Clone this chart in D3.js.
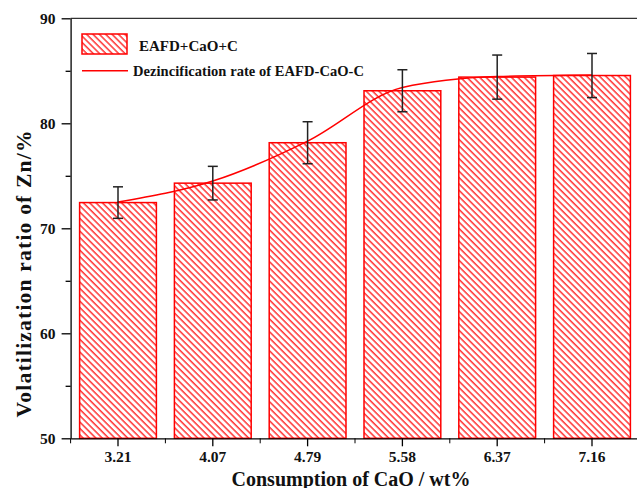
<!DOCTYPE html>
<html>
<head>
<meta charset="utf-8">
<script src="https://cdn.jsdelivr.net/npm/d3@7"></script>
<style>
  body { margin: 0; background: #fff; }
  svg { display: block; }
  svg text { font-family: "Liberation Serif", "Times New Roman", serif; font-weight: bold; fill: #111; }
</style>
</head>
<body>
<svg id="chart"></svg>
<script>
// data
const categories = ["3.21", "4.07", "4.79", "5.58", "6.37", "7.16"];
const zincRatio = [72.45, 74.3, 78.15, 83.1, 84.4, 84.55];
const zincError = [1.5, 1.6, 2.0, 2.0, 2.1, 2.1];
const fitCurve = [72.5, 74.5, 78.3, 83.4, 84.45, 84.6]; // Dezincification rate line
const yTicks = [50, 60, 70, 80, 90];
const yMinorTicks = [55, 65, 75, 85];

const svgWidth = 637;
const svgHeight = 488;
const red = "#ff0000";

const svg = d3.select("#chart").attr("width", svgWidth).attr("height", svgHeight);

const x = d3
  .scaleBand()
  .domain(categories)
  .range([70.6, 639.4])
  .paddingInner(0.19)
  .paddingOuter(0.095);

const y = d3.scaleLinear().domain([50, 90]).range([438.3, 18.3]);

// hatch pattern "\\\\"
const defs = svg.append("defs");
defs
  .append("pattern")
  .attr("id", "hatch")
  .attr("patternUnits", "userSpaceOnUse")
  .attr("width", 4.5)
  .attr("height", 4.5)
  .attr("patternTransform", "rotate(-45)")
  .append("line")
  .attr("x1", 1)
  .attr("y1", 0)
  .attr("x2", 1)
  .attr("y2", 4.5)
  .attr("stroke", red)
  .attr("stroke-width", 1.2);

// bars
svg
  .selectAll(".bar")
  .data(zincRatio)
  .enter()
  .append("rect")
  .attr("class", "bar")
  .attr("x", (d, i) => x(categories[i]))
  .attr("y", (d) => y(d))
  .attr("width", x.bandwidth())
  .attr("height", (d) => y(50) - y(d))
  .attr("fill", "url(#hatch)")
  .attr("stroke", red)
  .attr("stroke-width", 1.5);

// fitted line
const line = d3
  .line()
  .x((d, i) => x(categories[i]) + x.bandwidth() / 2)
  .y((d) => y(d))
  .curve(d3.curveMonotoneX);

svg
  .append("path")
  .datum(fitCurve)
  .attr("d", line)
  .attr("fill", "none")
  .attr("stroke", red)
  .attr("stroke-width", 1.5);

// error bars
const err = svg.append("g").attr("stroke", "#222").attr("stroke-width", 1.5);
zincRatio.forEach((v, i) => {
  const cx = x(categories[i]) + x.bandwidth() / 2;
  const top = y(v + zincError[i]);
  const bot = y(v - zincError[i]);
  err.append("line").attr("x1", cx).attr("x2", cx).attr("y1", top).attr("y2", bot);
  err.append("line").attr("x1", cx - 5).attr("x2", cx + 5).attr("y1", top).attr("y2", top);
  err.append("line").attr("x1", cx - 5).attr("x2", cx + 5).attr("y1", bot).attr("y2", bot);
});

// axes
svg
  .append("g")
  .attr("transform", `translate(${x.range()[0]},0)`)
  .call(d3.axisLeft(y).tickValues(yTicks).tickSize(9).tickSizeOuter(0).tickPadding(6));

svg
  .append("g")
  .attr("transform", `translate(${x.range()[0]},0)`)
  .call(d3.axisLeft(y).tickValues(yMinorTicks).tickSize(5).tickSizeOuter(0).tickFormat(""))
  .select(".domain")
  .remove();

svg
  .append("g")
  .attr("transform", `translate(0,${y(50)})`)
  .call(d3.axisBottom(x).tickSize(8).tickSizeOuter(0).tickPadding(5));

// minor ticks at band boundaries
const step = x.step();
svg
  .append("g")
  .selectAll("line")
  .data(categories)
  .enter()
  .append("line")
  .attr("x1", (d) => x(d) + x.bandwidth() / 2 - step / 2)
  .attr("x2", (d) => x(d) + x.bandwidth() / 2 - step / 2)
  .attr("y1", y(50))
  .attr("y2", y(50) + 5)
  .attr("stroke", "#000");

// top frame line
svg
  .append("line")
  .attr("x1", x.range()[0])
  .attr("x2", svgWidth)
  .attr("y1", y(90))
  .attr("y2", y(90))
  .attr("stroke", "#000");

svg.selectAll(".domain, .tick line").attr("stroke", "#000").attr("stroke-width", 1.3);
svg.selectAll(".tick text").style("font-size", "15.5px");

// axis titles
svg
  .append("text")
  .attr("x", 351)
  .attr("y", 486)
  .attr("text-anchor", "middle")
  .style("font-size", "20px")
  .text("Consumption of CaO / wt%");

svg
  .append("text")
  .attr("transform", "translate(31,274) rotate(-90)")
  .attr("text-anchor", "middle")
  .attr("textLength", 287)
  .attr("lengthAdjust", "spacing")
  .style("font-size", "21.5px")
  .text("Volatilization ratio of Zn/%");

// legend
const legend = svg.append("g");
legend
  .append("rect")
  .attr("x", 82)
  .attr("y", 34)
  .attr("width", 45)
  .attr("height", 20)
  .attr("fill", "url(#hatch)")
  .attr("stroke", red)
  .attr("stroke-width", 1.5);
legend
  .append("text")
  .attr("x", 139)
  .attr("y", 50.5)
  .style("font-size", "15px")
  .text("EAFD+CaO+C");
legend
  .append("line")
  .attr("x1", 82)
  .attr("x2", 128)
  .attr("y1", 70.7)
  .attr("y2", 70.7)
  .attr("stroke", red)
  .attr("stroke-width", 1.5);
legend
  .append("text")
  .attr("x", 133)
  .attr("y", 75.5)
  .attr("textLength", 231)
  .attr("lengthAdjust", "spacing")
  .style("font-size", "14.5px")
  .text("Dezincification rate of EAFD-CaO-C");
</script>
</body>
</html>
